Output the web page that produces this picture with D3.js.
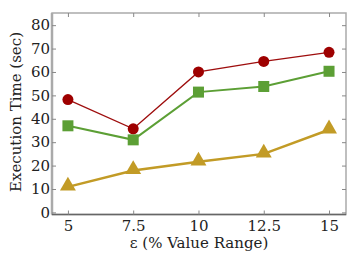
<!DOCTYPE html>
<html>
<head>
<meta charset="utf-8">
<script src="https://cdn.jsdelivr.net/npm/d3@7"></script>
<style>
body{margin:0;background:#fff;}
text{font-family:"DejaVu Serif",serif;fill:#222;}
</style>
</head>
<body>
<script>
var epsilons = [5, 7.5, 10, 12.5, 15];
var tickLabels = ['5','7.5','10','12.5','15'];
var yTicks = [0,10,20,30,40,50,60,70,80];
var redValues = [48.2, 35.7, 60, 64.5, 68.4];
var greenValues = [37, 31, 51.4, 53.8, 60.3];
var goldValues = [10.9, 17.9, 21.6, 25, 35.3];

var W = 359, H = 268;
var plotL = 52, plotR = 346, plotT = 13, plotB = 214.5;

var x = d3.scaleLinear().domain([4.39, 15.65]).range([plotL, plotR]);
var y = d3.scaleLinear().domain([-0.9, 85.2]).range([plotB, plotT]);

var svg = d3.select("body").append("svg").attr("width",W).attr("height",H);

// frame
svg.append("rect")
    .attr("x",plotL).attr("y",plotT)
    .attr("width",plotR-plotL).attr("height",plotB-plotT)
    .attr("fill","none").attr("stroke","#aaa").attr("stroke-width",1.5);
svg.append("line").attr("x1",plotL).attr("x2",plotL).attr("y1",plotT).attr("y2",plotB)
    .attr("stroke","#aaa").attr("stroke-width",2.5);
svg.append("line").attr("x1",plotL).attr("x2",plotR).attr("y1",plotB).attr("y2",plotB)
    .attr("stroke","#666").attr("stroke-width",1.5);

// axes with inward ticks
var xAxis = d3.axisBottom(x).tickValues(epsilons).tickFormat(function(d,i){return tickLabels[i];})
    .tickSizeInner(-4).tickSizeOuter(0).tickPadding(6);
var gx = svg.append("g").attr("transform","translate(0,"+plotB+")").call(xAxis);
gx.select(".domain").remove();
gx.selectAll("line").attr("stroke","#888");
gx.selectAll("text").attr("font-size","15px").attr("font-family","DejaVu Serif").attr("fill","#222");

var xTop = d3.axisTop(x).tickValues(epsilons).tickFormat("").tickSizeInner(-4).tickSizeOuter(0);
var gxt = svg.append("g").attr("transform","translate(0,"+plotT+")").call(xTop);
gxt.select(".domain").remove();
gxt.selectAll("line").attr("stroke","#888");

var yAxis = d3.axisLeft(y).tickValues(yTicks).tickSizeInner(-4).tickSizeOuter(0).tickPadding(2);
var gy = svg.append("g").attr("transform","translate("+plotL+",0)").call(yAxis);
gy.select(".domain").remove();
gy.selectAll("line").attr("stroke","#888");
gy.selectAll("text").attr("font-size","15px").attr("font-family","DejaVu Serif").attr("fill","#222");

var yRight = d3.axisRight(y).tickValues(yTicks).tickFormat("").tickSizeInner(-4).tickSizeOuter(0);
var gyr = svg.append("g").attr("transform","translate("+plotR+",0)").call(yRight);
gyr.select(".domain").remove();
gyr.selectAll("line").attr("stroke","#888");

// labels
svg.append("text").attr("x",199).attr("y",248)
    .attr("text-anchor","middle").attr("font-size","15px").text("ε (% Value Range)");
svg.append("text").attr("transform","translate(21,112) rotate(-90)")
    .attr("text-anchor","middle").attr("font-size","15px").text("Execution Time (sec)");

var line = d3.line().x(function(d,i){return x(epsilons[i]);}).y(function(d){return y(d);});

// gold triangles
svg.append("path").datum(goldValues).attr("d",line)
    .attr("fill","none").attr("stroke","#c29b26").attr("stroke-width",2.5);
svg.selectAll("path.tri").data(goldValues).enter().append("path")
    .attr("class","tri")
    .attr("d",d3.symbol().type(d3.symbolTriangle).size(110))
    .attr("transform",function(d,i){return "translate("+x(epsilons[i])+","+(y(d)-1)+")";})
    .attr("fill","#c29b26");

// green squares
svg.append("path").datum(greenValues).attr("d",line)
    .attr("fill","none").attr("stroke","#5c9f35").attr("stroke-width",2);
svg.selectAll("rect.sq").data(greenValues).enter().append("rect")
    .attr("class","sq")
    .attr("x",function(d,i){return x(epsilons[i])-5.5;})
    .attr("y",function(d){return y(d)-5.5;})
    .attr("width",11).attr("height",11)
    .attr("fill","#5c9f35");

// red circles
svg.append("path").datum(redValues).attr("d",line)
    .attr("fill","none").attr("stroke","#9e0d0d").attr("stroke-width",1.3);
svg.selectAll("circle.dot").data(redValues).enter().append("circle")
    .attr("class","dot")
    .attr("cx",function(d,i){return x(epsilons[i]);})
    .attr("cy",function(d){return y(d);})
    .attr("r",5.5)
    .attr("fill","#9e0000");
</script>
</body>
</html>
